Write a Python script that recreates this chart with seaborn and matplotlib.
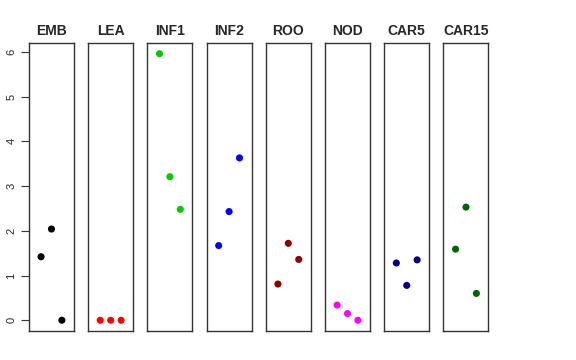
import pandas as pd
import numpy as np
import matplotlib
matplotlib.use('Agg')
import matplotlib.pyplot as plt
import seaborn as sns

# tissues and their colours
tissues = ['EMB', 'LEA', 'INF1', 'INF2', 'ROO', 'NOD', 'CAR5', 'CAR15']
colors = ['black', 'red', '#00cd00', 'blue', '#8b0000', 'magenta', '#00008b', '#006400']

# three replicate values per tissue
emb = [1.42, 2.04, 0.0]
lea = [0.0, 0.0, 0.0]
inf1 = [5.96, 3.21, 2.48]
inf2 = [1.67, 2.43, 3.63]
roo = [0.81, 1.72, 1.36]
nod = [0.34, 0.15, 0.0]
car5 = [1.28, 0.78, 1.35]
car15 = [1.59, 2.53, 0.60]
replicate = [1, 2, 3]

values = [emb, lea, inf1, inf2, roo, nod, car5, car15]
data = pd.DataFrame({
    'tissue': np.repeat(tissues, 3),
    'rep': replicate * len(tissues),
    'value': np.concatenate(values),
})

sns.set_style('white')
plt.rcParams['font.family'] = ['Liberation Sans', 'DejaVu Sans']

fig = plt.figure(figsize=(5.76, 3.6), dpi=100)

left, width, step = 0.0503, 0.0781, 0.1028
bottom, height = 0.0806, 0.8

for i, (t, c) in enumerate(zip(tissues, colors)):
    ax = fig.add_axes([left + i * step, bottom, width, height])
    sns.scatterplot(x='rep', y='value', data=data[data['tissue'] == t],
                    color=c, s=26, edgecolor='none', ax=ax)
    ax.set_xlim(-0.16, 4.16)
    ax.set_ylim(-0.24, 6.2)
    ax.set_xticks([])
    ax.set_xlabel('')
    ax.set_ylabel('')
    ax.set_title(t, fontsize=10, fontweight='bold', pad=6)
    for sp in ax.spines.values():
        sp.set_visible(True)
        sp.set_color('#333333')
        sp.set_linewidth(1)
    if i == 0:
        ax.set_yticks(range(7))
        ax.tick_params(axis='y', left=True, length=6, width=0.8, pad=3,
                       color='#333333', labelsize=8, labelrotation=90)
        for lab in ax.get_yticklabels():
            lab.set_verticalalignment('center')
    else:
        ax.set_yticks([])

fig.savefig('out.png', dpi=100)
